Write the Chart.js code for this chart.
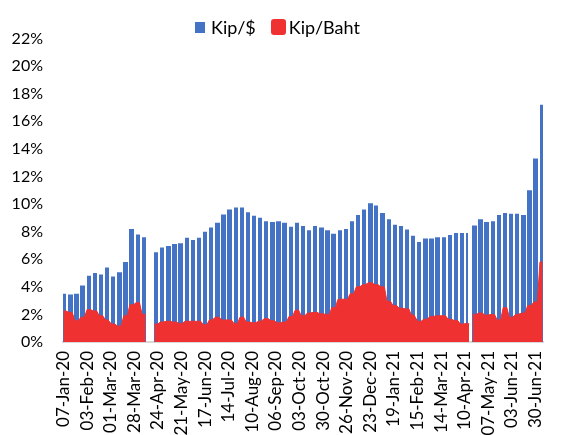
<!DOCTYPE html>
<html>
<head>
<meta charset="utf-8">
<title>Kip/$ and Kip/Baht</title>
<script src="https://cdn.jsdelivr.net/npm/chart.js"></script>
<style>
  html, body { margin: 0; padding: 0; background: #fff; overflow: hidden; }
  #wrap { position: relative; width: 565px; height: 435px; overflow: hidden; }
  #fxChart { display: block; }
  #legend { position: absolute; left: 195px; top: 18px; display: flex; align-items: center;
            font: 18px Lato, sans-serif; color: #000; line-height: 18px; }
  #legend .box { display: inline-block; margin-right: 6px; }
  #legend .item { display: flex; align-items: center; margin-right: 15px; }
</style>
</head>
<body>
<div id="wrap">
  <canvas id="fxChart" width="565" height="470"></canvas>
  <div id="legend"></div>
</div>
<script>
// Weekly readings (%), one value per week, first week = Mon 06-Jan-20
const kipUsd = [
  3.5, 3.45, 3.5, 4.1, 4.8, 5.0, 4.9, 5.4, 4.75, 5.05,
  5.8, 8.2, 7.8, 7.6, null, 6.5, 6.85, 6.95, 7.1, 7.15,
  7.55, 7.4, 7.55, 8.0, 8.3, 8.65, 9.25, 9.6, 9.75, 9.75,
  9.4, 9.15, 9.0, 8.75, 8.7, 8.75, 8.65, 8.35, 8.65, 8.4,
  8.1, 8.4, 8.3, 8.1, 7.85, 8.1, 8.2, 8.75, 9.2, 9.6,
  10.05, 9.9, 9.35, 8.9, 8.5, 8.4, 8.15, 7.7, 7.25, 7.5,
  7.5, 7.6, 7.6, 7.75, 7.9, 7.9, 7.9, 8.45, 8.9, 8.7,
  8.75, 9.2, 9.35, 9.3, 9.3, 9.2, 11.0, 13.3, 17.2
];
const kipBaht = [
  2.25, 2.15, 1.55, 1.8, 2.35, 2.25, 1.9, 1.6, 1.3, 1.15,
  1.9, 2.7, 2.85, 2.0, null, 1.3, 1.45, 1.5, 1.45, 1.35,
  1.5, 1.5, 1.5, 1.25, 1.6, 1.8, 1.6, 1.6, 1.35, 1.8,
  1.45, 1.4, 1.5, 1.7, 1.55, 1.4, 1.45, 1.85, 2.3, 1.9,
  2.1, 2.15, 2.05, 2.0, 2.5, 3.1, 3.1, 3.5, 4.0, 4.15,
  4.3, 4.15, 4.0, 2.95, 2.65, 2.45, 2.4, 1.95, 1.5, 1.65,
  1.85, 1.9, 1.9, 1.65, 1.55, 1.3, 1.35, 2.0, 2.1, 1.95,
  2.0, 1.6, 2.5, 1.8, 2.0, 2.1, 2.65, 2.9, 5.8
];

// Days with no quote (holidays)
const usdClosed = ['2021-01-01', '2021-04-14', '2021-04-15', '2021-04-16'];
const bahtClosed = ['2021-04-16'];

const monthNames = ['Jan', 'Feb', 'Mar', 'Apr', 'May', 'Jun', 'Jul', 'Aug', 'Sep', 'Oct', 'Nov', 'Dec'];
const dayCount = 549;   // 07-Jan-20 .. 08-Jul-21
const tickEvery = 27;   // one date label every 27 days
const yTicks = [0, 2, 4, 6, 8, 10, 12, 14, 16, 18, 20, 22];

// 1. Daily category axis; weekends and holidays have no quote
const labels = [];
const usdDaily = [];
const bahtPoints = [];
for (let d = 0; d < dayCount; d++) {
  const date = new Date(Date.UTC(2020, 0, 7 + d));
  const iso = date.toISOString().slice(0, 10);
  const dd = String(date.getUTCDate()).padStart(2, '0');
  const label = `${dd}-${monthNames[date.getUTCMonth()]}-${String(date.getUTCFullYear()).slice(2)}`;
  labels.push(label);

  const week = Math.floor((d + 1) / 7);
  const weekend = date.getUTCDay() === 0 || date.getUTCDay() === 6;
  usdDaily.push(weekend || usdClosed.includes(iso) ? null : kipUsd[week]);
  if (!weekend && !bahtClosed.includes(iso) && kipBaht[week] !== null) {
    bahtPoints.push({ x: label, y: kipBaht[week] });
  }
}

// 2. Snap the thin daily bars to whole pixels so the weekend gaps stay crisp
const snapBars = {
  id: 'snapBars',
  afterDatasetsUpdate(chart) {
    chart.getSortedVisibleDatasetMetas().forEach(meta => {
      if (meta.type !== 'bar') return;
      meta.data.forEach(bar => {
        const left = Math.round(bar.x - bar.width / 2);
        const right = Math.round(bar.x + bar.width / 2);
        bar.x = (left + right) / 2;
        bar.width = right - left;
      });
    });
  }
};

const ctx = document.getElementById('fxChart').getContext('2d');

const myChart = new Chart(ctx, {
  type: 'bar',
  data: {
    labels: labels,
    datasets: [
      {
        type: 'line',
        label: 'Kip/Baht',
        data: bahtPoints,
        borderColor: '#ef3231',
        backgroundColor: '#ef3231',
        borderWidth: 1,
        pointRadius: 0,
        fill: 'origin',
        spanGaps: 3,      // join over weekends, break on longer closures
        tension: 0,
        order: 0
      },
      {
        label: 'Kip/$',
        data: usdDaily,
        backgroundColor: '#4472c4',
        categoryPercentage: 1,
        barPercentage: 1,
        inflateAmount: 0,
        order: 1
      }
    ]
  },
  options: {
    responsive: false,
    animation: false,
    layout: { padding: { top: 38.5, right: 0, left: 0, bottom: 0 } },
    plugins: {
      legend: { display: false },
      tooltip: { enabled: false }
    },
    scales: {
      x: {
        grid: { display: false, drawTicks: false },
        border: { display: true, color: '#d9d9d9', width: 2 },
        afterFit: (scale) => { scale.height = 128; },
        ticks: {
          autoSkip: false,
          minRotation: 90,
          maxRotation: 90,
          padding: 9,
          color: '#000',
          font: { family: 'Lato', size: 17 },
          callback: function (value, index) {
            return index % tickEvery === 0 ? this.getLabelForValue(value) : null;
          }
        }
      },
      y: {
        min: yTicks[0],
        max: yTicks[yTicks.length - 1],
        grid: { display: false, drawTicks: false },
        border: { display: false },
        afterFit: (scale) => { scale.width = 63; },
        afterBuildTicks: (scale) => { scale.ticks = yTicks.map(v => ({ value: v })); },
        ticks: {
          padding: 20,
          color: '#000',
          font: { family: 'Lato', size: 16 },
          callback: (value) => `${value}%`
        }
      }
    }
  },
  plugins: [snapBars]
});

// 3. HTML legend built from the datasets
const legendEl = document.getElementById('legend');
const boxSizes = { 'Kip/$': [10, 11, 0], 'Kip/Baht': [15, 16, 3] };
['Kip/$', 'Kip/Baht'].forEach(name => {
  const ds = myChart.data.datasets.find(s => s.label === name);
  const [w, h, r] = boxSizes[name];
  const item = document.createElement('span');
  item.className = 'item';
  item.innerHTML = `<span class="box" style="width:${w}px;height:${h}px;border-radius:${r}px;background:${ds.backgroundColor};margin-right:${r ? 3 : 6}px"></span><span>${name}</span>`;
  legendEl.appendChild(item);
});
</script>
</body>
</html>
